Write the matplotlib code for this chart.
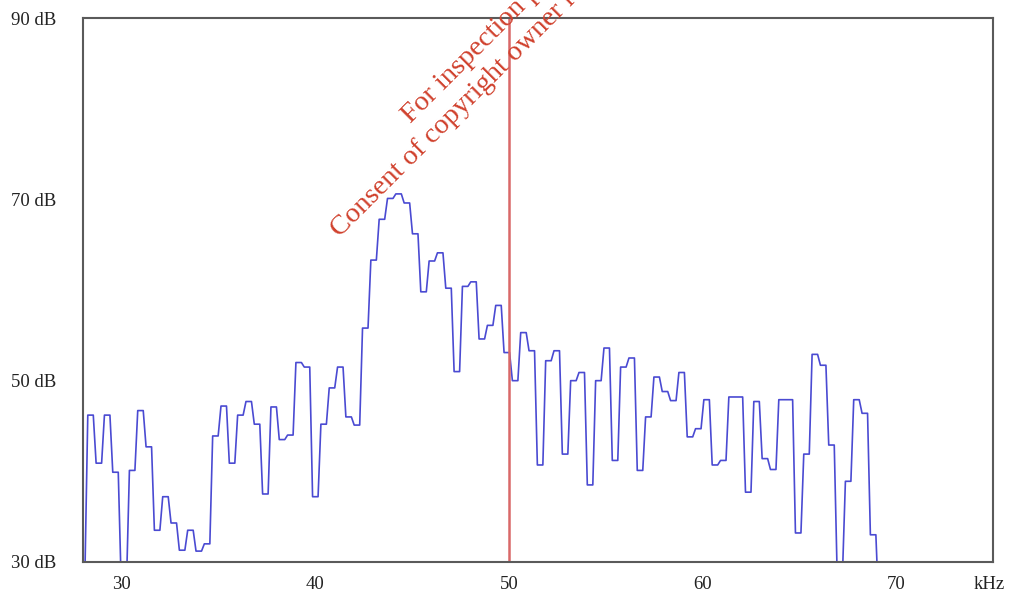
import matplotlib
matplotlib.use("Agg")
import matplotlib.pyplot as plt
import numpy as np

# spectrum levels (dB), one value per frequency bin
f_start = 27.96   # kHz, centre of first bin
f_step = 0.43     # kHz between bins
levels = [29.0,
          46.2, 40.9, 46.2, 39.9, 28.0, 40.1, 46.7, 42.7, 33.5, 37.2,
          34.3, 31.3, 33.5, 31.2, 32.0, 43.9, 47.2, 40.9, 46.2, 47.7,
          45.2, 37.5, 47.1, 43.5, 44.0, 52.0, 51.5, 37.2, 45.2, 49.2,
          51.5, 46.0, 45.1, 55.8, 63.3, 67.8, 70.1, 70.6, 69.6, 66.2,
          59.8, 63.2, 64.1, 60.2, 51.0, 60.4, 60.9, 54.6, 56.1, 58.3,
          53.1, 50.0, 55.3, 53.3, 40.7, 52.2, 53.3, 41.9, 50.0, 50.9,
          38.5, 50.0, 53.6, 41.2, 51.5, 52.5, 40.1, 46.0, 50.4, 48.8,
          47.8, 50.9, 43.8, 44.7, 47.9, 40.7, 41.2, 48.2, 48.2, 37.7,
          47.7, 41.4, 40.2, 47.9, 47.9, 33.2, 41.9, 52.9, 51.7, 42.9,
          29.0, 38.9, 47.9, 46.4, 33.0, 25.0]

marker_khz = 50
ytick_vals = [30, 50, 70, 90]
ytick_labels = ["30 dB", "50 dB", "70 dB", "90 dB"]
xtick_vals = [30, 40, 50, 60, 70, 74.8]
xtick_labels = ["30", "40", "50", "60", "70", "kHz"]

# each bin drawn as a short flat step with sloped edges
centres = f_start + f_step * np.arange(len(levels))
half = 0.33 * f_step
xs = np.column_stack([centres - half, centres + half]).ravel()
ys = np.repeat(levels, 2)

plt.rcParams['font.family'] = ['Liberation Serif', 'DejaVu Serif']

fig = plt.figure(figsize=(10.12, 5.95), dpi=100)
ax = fig.add_axes([0.0820, 0.0555, 0.8992, 0.9142])

ax.plot(xs, ys, color="#4a4ad2", lw=1.2)
ax.axvline(marker_khz, color="#d96868", lw=1.8)

ax.set_xlim(28, 75)
ax.set_ylim(30, 90)
ax.set_yticks(ytick_vals, labels=ytick_labels)
ax.set_xticks(xtick_vals, labels=xtick_labels)
ax.tick_params(axis="y", length=0, pad=19, labelsize=13.5, labelcolor="#222222")
ax.tick_params(axis="x", length=0, pad=10, labelsize=13.5, labelcolor="#222222")
for s in ax.spines.values():
    s.set_color("#5a5a5a")
    s.set_linewidth(1.5)

# watermark (cut by the top edge, as in the source)
wm = dict(color="#d0402c", fontsize=20.5, rotation=45, rotation_mode="anchor",
          ha="left", va="baseline")
fig.text(411 / 1012, 1 - 124 / 595, "For inspection purposes only.", **wm)
fig.text(340 / 1012, 1 - 238 / 595, "Consent of copyright owner required for any other use.", **wm)

fig.savefig("out.png", dpi=100)
